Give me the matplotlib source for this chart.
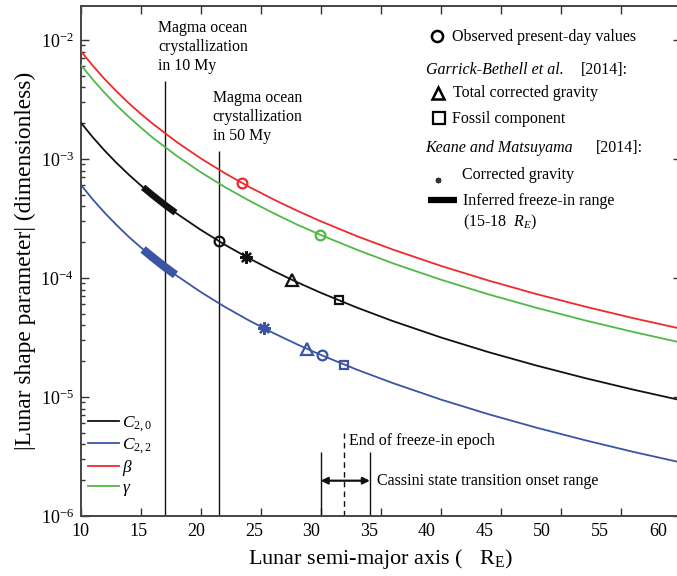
import matplotlib
matplotlib.use("Agg")
import matplotlib.pyplot as plt
from matplotlib.lines import Line2D
from matplotlib.transforms import ScaledTranslation
from matplotlib.ticker import LogLocator, FixedLocator, NullFormatter

plt.rcParams['font.family'] = ['Liberation Serif', 'DejaVu Serif']
plt.rcParams['mathtext.fontset'] = 'custom'
plt.rcParams['mathtext.rm'] = 'Liberation Serif'
plt.rcParams['mathtext.it'] = 'Liberation Serif:italic'
plt.rcParams['mathtext.bf'] = 'Liberation Serif:bold'

# ---------------- data ----------------
a_RE = [10, 11, 12, 13, 14, 15, 16, 18, 20, 22, 24, 26, 28, 30, 33, 36, 40, 44, 48, 52, 56, 60]
C20 = [2.03e-3, 1.525e-3, 1.175e-3, 9.24e-4, 7.40e-4, 6.01e-4, 4.96e-4, 3.48e-4, 2.54e-4, 1.906e-4,
       1.468e-4, 1.155e-4, 9.25e-5, 7.52e-5, 5.65e-5, 4.35e-5, 3.17e-5, 2.38e-5, 1.836e-5, 1.444e-5,
       1.156e-5, 9.40e-6]
C22 = [6.10e-4, 4.58e-4, 3.53e-4, 2.78e-4, 2.22e-4, 1.81e-4, 1.49e-4, 1.046e-4, 7.63e-5, 5.73e-5,
       4.41e-5, 3.47e-5, 2.78e-5, 2.26e-5, 1.70e-5, 1.31e-5, 9.53e-6, 7.16e-6, 5.52e-6, 4.34e-6,
       3.47e-6, 2.82e-6]
beta = [8.10e-3, 6.09e-3, 4.69e-3, 3.69e-3, 2.95e-3, 2.40e-3, 1.98e-3, 1.389e-3, 1.013e-3, 7.61e-4,
        5.86e-4, 4.61e-4, 3.69e-4, 3.00e-4, 2.25e-4, 1.736e-4, 1.266e-4, 9.51e-5, 7.32e-5, 5.76e-5,
        4.61e-5, 3.75e-5]
gamma = [6.20e-3, 4.66e-3, 3.59e-3, 2.82e-3, 2.26e-3, 1.84e-3, 1.51e-3, 1.063e-3, 7.75e-4, 5.82e-4,
         4.49e-4, 3.53e-4, 2.82e-4, 2.30e-4, 1.73e-4, 1.33e-4, 9.69e-5, 7.28e-5, 5.61e-5, 4.41e-5,
         3.53e-5, 2.87e-5]

# inferred freeze-in range (15-18 R_E)
freeze_a = [15.2, 16, 17, 17.9]
freeze_C20 = [5.78e-4, 4.96e-4, 4.13e-4, 3.54e-4]
freeze_C22 = [1.737e-4, 1.49e-4, 1.241e-4, 1.064e-4]

# observed present-day values
obs_C20 = (21.55, 2.03e-4)
obs_C22 = (30.13, 2.24e-5)
obs_beta = (23.47, 6.31e-4)
obs_gamma = (29.94, 2.28e-4)
# Garrick-Bethell et al. [2014]
gb_total_C20 = (27.58, 9.68e-5)
gb_total_C22 = (28.88, 2.53e-5)
gb_fossil_C20 = (31.53, 6.48e-5)
gb_fossil_C22 = (31.94, 1.87e-5)
# Keane and Matsuyama [2014]
km_C20 = (23.78, 1.51e-4)
km_C22 = (25.30, 3.77e-5)

magma_10My_a = 17.0
magma_50My_a = 21.55
cassini_range = [30.0, 34.1]
freeze_end_a = 31.95

x_ticks = [10, 15, 20, 25, 30, 35, 40, 45, 50, 55, 60]

# ---------------- figure ----------------
W, H = 677, 576
fig = plt.figure(figsize=(W / 100, H / 100), dpi=100)
axL, axR, axT, axB = 80.7, 680.7, 6.0, 516.0
ax = fig.add_axes([axL / W, 1 - axB / H, (axR - axL) / W, (axB - axT) / H])

BLACK = '#111111'
BLUE = '#3a55a5'
RED = '#ee2a2a'
GREEN = '#50b848'

lw = 1.3
ax.plot(a_RE, C20, color=BLACK, lw=lw, label=r'$C_{2,0}$', zorder=3)
ax.plot(a_RE, C22, color=BLUE, lw=lw, label=r'$C_{2,2}$', zorder=3)
ax.plot(a_RE, beta, color=RED, lw=lw, label=r'$\beta$', zorder=3)
ax.plot(a_RE, gamma, color=GREEN, lw=lw, label=r'$\gamma$', zorder=3)

ax.plot(freeze_a, freeze_C20, color=BLACK, lw=4.8, solid_capstyle='butt', zorder=4)
ax.plot(freeze_a, freeze_C22, color=BLUE, lw=6.0, solid_capstyle='butt', zorder=4)

mk = dict(mfc='none', mew=1.6, zorder=5, linestyle='none')
for (x, y), c in [(obs_C20, BLACK), (obs_C22, BLUE), (obs_beta, RED), (obs_gamma, GREEN)]:
    ax.plot([x], [y], marker='o', ms=7, mec=c, **mk)
for (x, y), c in [(gb_total_C20, BLACK), (gb_total_C22, BLUE)]:
    ax.plot([x], [y], marker='^', ms=8, mec=c, **mk)
for (x, y), c in [(gb_fossil_C20, BLACK), (gb_fossil_C22, BLUE)]:
    ax.plot([x], [y], marker='s', ms=6, mec=c, **mk)
for (x, y), c in [(km_C20, BLACK), (km_C22, BLUE)]:
    ax.plot([x], [y], marker=(8, 2, 0), ms=9, mec=c, **mk)

# vertical annotation lines
ax.vlines(magma_10My_a, 1e-6, 4.52e-3, color=BLACK, lw=1.0, zorder=2)
ax.vlines(magma_50My_a, 1e-6, 1.17e-3, color=BLACK, lw=1.0, zorder=2)
ax.vlines(cassini_range, 1e-6, 3.47e-6, color=BLACK, lw=1.0, zorder=2)
ax.vlines(freeze_end_a, 1e-6, 5.0e-6, color=BLACK, lw=1.0, linestyles=(0, (4, 3)), zorder=2)
ax.annotate('', xy=(cassini_range[0], 1.98e-6), xytext=(cassini_range[1], 1.98e-6),
            arrowprops=dict(arrowstyle='<|-|>', color=BLACK, lw=1.6, mutation_scale=10,
                            shrinkA=0, shrinkB=0))

ax.set_xscale('linear')
ax.set_yscale('log')
ax.set_xlim(10, 60)
ax.set_ylim(1e-6, 10 ** (-2 + 34 / 119))
ax.xaxis.set_major_locator(FixedLocator(x_ticks))
ax.yaxis.set_major_locator(LogLocator(base=10, numticks=10))
ax.yaxis.set_minor_locator(LogLocator(base=10, subs=range(2, 10), numticks=20))
ax.yaxis.set_minor_formatter(NullFormatter())
ax.tick_params(which='both', direction='in', top=True, right=True, labelsize=13, colors='#333333',
               labelcolor='black', width=1.0, pad=5)
ax.tick_params(which='major', length=6)
ax.tick_params(which='minor', length=3)
for s in ax.spines.values():
    s.set_color('#444444')
    s.set_linewidth(1.4)

ax.set_xlabel(r'Lunar semi-major axis (   R$_\mathrm{E}$)', fontsize=16, labelpad=5)
ax.set_ylabel('|Lunar shape parameter| (dimensionless)', fontsize=16.8, labelpad=3)

leg = ax.legend(loc='upper left', bbox_to_anchor=(88 / W, 1 - 414 / H), bbox_transform=fig.transFigure,
                frameon=False, fontsize=12.5, handlelength=1.8, handletextpad=0.15,
                labelspacing=0.12, borderpad=0, borderaxespad=0)

# text annotations (figure pixel positions)
def F(x, y):
    return (x / W, 1 - y / H)

fig.text(*F(158.3, 47), 'Magma ocean\ncrystallization\nin 10 My', fontsize=11.4, va='center', ha='left',
         linespacing=1.22)
fig.text(*F(212.7, 117), 'Magma ocean\ncrystallization\nin 50 My', fontsize=11.4, va='center', ha='left',
         linespacing=1.22)
fig.text(*F(349.3, 440.7), 'End of freeze-in epoch', fontsize=11.5, va='center', ha='left')
fig.text(*F(376.7, 481), 'Cassini state transition onset range', fontsize=11.5, va='center', ha='left')

# top-right key
ts = 11.5
fig.add_artist(Line2D([437.3 / W], [1 - 35.7 / H], transform=fig.transFigure, marker='o', ms=8,
                      mfc='none', mec='black', mew=1.8))
fig.text(*F(452.3, 37), 'Observed present-day values', fontsize=ts, va='center')
fig.text(*F(426, 70), 'Garrick-Bethell et al.', fontsize=ts, va='center', style='italic')
fig.text(*F(581, 70), '[2014]:', fontsize=ts, va='center')
fig.add_artist(Line2D([438.3 / W], [1 - 92.5 / H], transform=fig.transFigure, marker='^', ms=9,
                      mfc='none', mec='black', mew=1.8))
fig.text(*F(453.3, 93), 'Total corrected gravity', fontsize=ts, va='center')
fig.add_artist(Line2D([439 / W], [1 - 117.7 / H], transform=fig.transFigure, marker='s', ms=8,
                      mfc='none', mec='black', mew=1.6))
fig.text(*F(451.7, 119), 'Fossil component', fontsize=ts, va='center')
fig.text(*F(425, 148.3), 'Keane and Matsuyama', fontsize=ts, va='center', style='italic')
fig.text(*F(596, 148.3), '[2014]:', fontsize=ts, va='center')
fig.add_artist(Line2D([437.7 / W], [1 - 180 / H], transform=fig.transFigure, marker=(8, 2, 0), ms=4,
                      mfc='none', mec='#333333', mew=1.0))
fig.text(*F(461.7, 175), 'Corrected gravity', fontsize=ts, va='center')
fig.add_artist(Line2D([428.3 / W, 456.7 / W], [1 - 200 / H, 1 - 200 / H], transform=fig.transFigure,
                      color='black', lw=4.5, solid_capstyle='butt'))
fig.text(*F(463.3, 201), 'Inferred freeze-in range', fontsize=ts, va='center')
fig.text(*F(463.3, 222), r'(15-18  $R_E$)', fontsize=ts, va='center')

# x tick labels in the reference drift slightly left of their ticks
fig.canvas.draw()
for tick in ax.xaxis.get_major_ticks():
    v = tick.get_loc()
    dx = -(v - 10) * 0.46 / 100.0
    tick.label1.set_transform(tick.label1.get_transform() + ScaledTranslation(dx, 0, fig.dpi_scale_trans))

fig.savefig('out.png', dpi=100)
